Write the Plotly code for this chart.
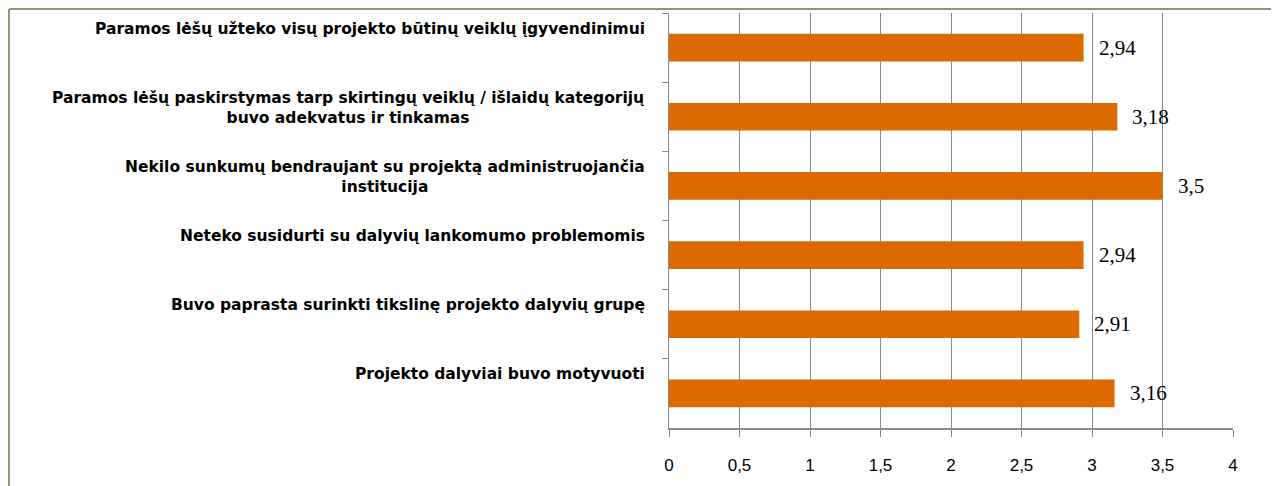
import plotly.graph_objects as go

categories = [
    "Paramos lėšų užteko visų projekto būtinų veiklų įgyvendinimui",
    "Paramos lėšų paskirstymas tarp skirtingų veiklų / išlaidų kategorijų<br>buvo adekvatus ir tinkamas",
    "Nekilo sunkumų bendraujant su projektą administruojančia<br>institucija",
    "Neteko susidurti su dalyvių lankomumo problemomis",
    "Buvo paprasta surinkti tikslinę projekto dalyvių grupę",
    "Projekto dalyviai buvo motyvuoti",
]
values = [2.94, 3.18, 3.5, 2.94, 2.91, 3.16]
x_ticks = [0, 0.5, 1, 1.5, 2, 2.5, 3, 3.5, 4]
x_tick_labels = ["0", "0,5", "1", "1,5", "2", "2,5", "3", "3,5", "4"]

def fmt(v):
    return ("%g" % v).replace(".", ",")

# page body has an 8px margin
W, H = 1271, 478
L, R, T, B = 661, 46, 5, 58

bar_color = "#DC6A00"
grid_color = "#8A8A8A"

fig = go.Figure()
fig.add_trace(go.Bar(
    x=values, y=categories, orientation="h",
    marker=dict(color=bar_color, line=dict(width=0)),
    width=0.4, hoverinfo="x+y",
))

annotations = []
for cat in categories:
    nlines = cat.count("<br>") + 1
    annotations.append(dict(
        x=0, xref="paper", y=cat, yref="y",
        text=cat, showarrow=False, xanchor="right", yanchor="middle",
        align="center", xshift=-22, yshift=(19 if nlines == 1 else 9),
        font=dict(family="DejaVu Sans", size=15.5, color="#000000", weight="bold"),
    ))
for cat, v in zip(categories, values):
    annotations.append(dict(
        x=v, xref="x", y=cat, yref="y", text=fmt(v), showarrow=False,
        xanchor="left", yanchor="middle", xshift=13,
        font=dict(family="Liberation Serif", size=21, color="#000000"),
    ))

pw = W - L - R
ph = H - T - B
frame_color = "#9C8E74"
shapes = [
    dict(type="line", xref="paper", yref="paper",
         x0=(1 - L) / pw, x1=(W - L) / pw, y0=(H - B - 1) / ph, y1=(H - B - 1) / ph,
         line=dict(color=frame_color, width=2)),
    dict(type="line", xref="paper", yref="paper",
         x0=(1 - L) / pw, x1=(1 - L) / pw, y0=(H - B - 1) / ph, y1=(H - B - H) / ph,
         line=dict(color=frame_color, width=2)),
]

fig.update_layout(
    width=W, height=H,
    margin=dict(l=L, r=R, t=T, b=B, pad=0),
    paper_bgcolor="white", plot_bgcolor="white",
    showlegend=False,
    annotations=annotations,
    shapes=shapes,
    xaxis=dict(
        range=[0, 4], tickmode="array", tickvals=x_ticks, ticktext=x_tick_labels,
        showgrid=True, gridcolor=grid_color, gridwidth=1,
        showline=True, linecolor=grid_color, linewidth=2,
        ticks="outside", ticklen=7, tickcolor=grid_color, tickwidth=1,
        ticklabelstandoff=14,
        tickfont=dict(family="Liberation Sans", size=17, color="#000000"),
        zeroline=False, fixedrange=True,
    ),
    yaxis=dict(
        autorange="reversed", type="category",
        showticklabels=False, showgrid=False,
        showline=True, linecolor=grid_color, linewidth=1,
        ticks="outside", ticklen=6, tickcolor=grid_color, tickwidth=1,
        tickson="boundaries", zeroline=False, fixedrange=True,
    ),
)

fig.write_html("out.html")
